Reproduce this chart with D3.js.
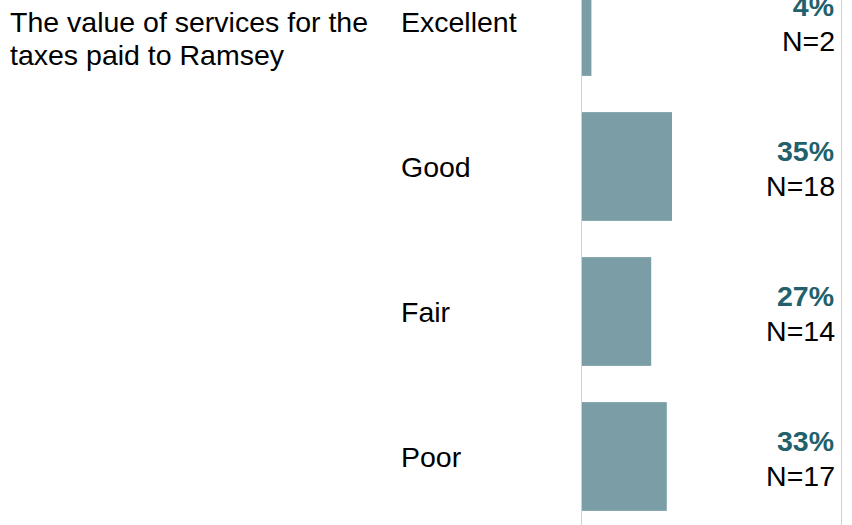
<!DOCTYPE html>
<html>
<head>
<meta charset="utf-8">
<script src="https://cdn.jsdelivr.net/npm/d3@7"></script>
<style>
  html, body { margin: 0; padding: 0; background: #fff; }
  svg { display: block; font-family: "Liberation Sans", Arial, sans-serif; }
</style>
</head>
<body>
<svg id="chart" width="852" height="525"></svg>
<script>
const titleLines = ["The value of services for the", "taxes paid to Ramsey"];
const categories = ["Excellent", "Good", "Fair", "Poor"];
const percents = [0.04, 0.35, 0.27, 0.33];
const counts = [2, 18, 14, 17];
const pctLabels = ["4%", "35%", "27%", "33%"];

const svg = d3.select("#chart");
const W = 852, H = 525;

const x = d3.scaleLinear().domain([0, 1]).range([581, 841]);
const y = d3.scaleBand().domain(categories).range([-51, 529]).paddingInner(0.25).paddingOuter(0.125);

const fs = 28.5;

// title
svg.append("text")
  .attr("x", 10).attr("y", 32)
  .attr("font-size", fs).attr("fill", "#000")
  .selectAll("tspan").data(titleLines).join("tspan")
  .attr("x", 10).attr("dy", (d, i) => i === 0 ? 0 : 33)
  .text(d => d);

// bars
svg.selectAll("rect.bar").data(categories).join("rect")
  .attr("class", "bar")
  .attr("x", x(0))
  .attr("y", d => y(d))
  .attr("width", (d, i) => x(percents[i]) - x(0))
  .attr("height", y.bandwidth())
  .attr("fill", "#7b9ea6");

// axis lines
svg.append("line").attr("x1", x(0) + 0.5).attr("x2", x(0) + 0.5).attr("y1", 0).attr("y2", H)
  .attr("stroke", "#d0d0d0").attr("stroke-width", 1);
svg.append("line").attr("x1", x(1) + 0.5).attr("x2", x(1) + 0.5).attr("y1", 0).attr("y2", H)
  .attr("stroke", "#d0d0d0").attr("stroke-width", 1);

// category labels
svg.selectAll("text.cat").data(categories).join("text")
  .attr("class", "cat")
  .attr("x", 401)
  .attr("y", d => y(d) + y.bandwidth() / 2 + 10)
  .attr("font-size", fs).attr("fill", "#000")
  .text(d => d);

// percent labels
svg.selectAll("text.pct").data(categories).join("text")
  .attr("class", "pct")
  .attr("x", 834)
  .attr("y", d => y(d) + y.bandwidth() / 2 - 6)
  .attr("text-anchor", "end")
  .attr("font-size", fs).attr("font-weight", "bold").attr("fill", "#22606c")
  .text((d, i) => pctLabels[i]);

svg.selectAll("text.n").data(categories).join("text")
  .attr("class", "n")
  .attr("x", 835)
  .attr("y", d => y(d) + y.bandwidth() / 2 + 29)
  .attr("text-anchor", "end")
  .attr("font-size", fs).attr("fill", "#000")
  .text((d, i) => "N=" + counts[i]);
</script>
</body>
</html>
